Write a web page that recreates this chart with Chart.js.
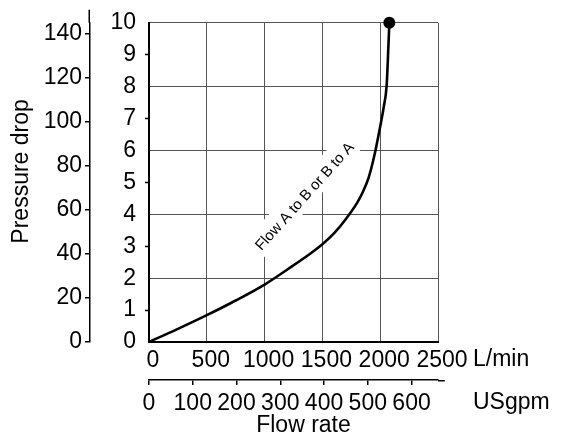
<!DOCTYPE html>
<html><head><meta charset="utf-8">
<script src="https://cdn.jsdelivr.net/npm/chart.js@4.4.1/dist/chart.umd.min.js"></script>
<style>html,body{margin:0;padding:0;background:#fff}canvas{display:block}</style>
</head><body>
<canvas id="c" width="568" height="441"></canvas>
<script>
// ---- data ----
const flowLmin    = [0, 250, 500, 750, 1000, 1200, 1400, 1500, 1600, 1700, 1800, 1850, 1900, 1950, 2000, 2030, 2056, 2068, 2079];
const pressureBar = [0, 0.41, 0.84, 1.3, 1.8, 2.28, 2.78, 3.06, 3.4, 3.84, 4.36, 4.7, 5.15, 5.85, 6.75, 7.35, 8.05, 9.0, 10];
const lminTicks  = [0, 500, 1000, 1500, 2000, 2500];
const usgpmTicks = [0, 100, 200, 300, 400, 500, 600];
const barTicks   = [0, 1, 2, 3, 4, 5, 6, 7, 8, 9, 10];
const psiTicks   = [0, 20, 40, 60, 80, 100, 120, 140];
const LMIN_PER_USGPM = 3.78541;
const PSI_PER_BAR = 14.5038;
const xTitle = 'Flow rate';
const yTitle = 'Pressure drop';
const lminUnit = 'L/min';
const usgpmUnit = 'USgpm';
const curveLabel = 'Flow A to B or B to A';
const curveLabelAt = {x: 1349, y: 4.55};

const FONT = "Arial, 'Liberation Sans', sans-serif";
Chart.defaults.font.family = FONT;
Chart.defaults.color = '#000';

const setTicks = arr => s => { s.ticks = arr.map(v => ({value: v})); };
const plain = v => String(v);
const GRID = '#555';
const TICK_FONT = {size: 23};

const extras = {
  id: 'extras',
  beforeDatasetsDraw(chart) {
    const ctx = chart.ctx, xs = chart.scales.x, ys = chart.scales.y;
    const cx = xs.getPixelForValue(curveLabelAt.x), cy = ys.getPixelForValue(curveLabelAt.y);
    ctx.save();
    ctx.translate(cx, cy);
    ctx.rotate(-48 * Math.PI / 180);
    ctx.font = '15px ' + FONT;
    const w = ctx.measureText(curveLabel).width;
    ctx.fillStyle = '#fff';
    ctx.fillRect(-w / 2 - 4, -15, w + 8, 25);
    ctx.fillStyle = '#000';
    ctx.textAlign = 'center';
    ctx.textBaseline = 'middle';
    ctx.fillText(curveLabel, 0, 0);
    ctx.restore();
  },
  afterDraw(chart) {
    const ctx = chart.ctx, s = chart.scales, ca = chart.chartArea;
    ctx.save();
    ctx.strokeStyle = '#000';
    ctx.lineWidth = 1.5;
    // extend outer psi axis line upward
    ctx.beginPath();
    ctx.moveTo(s.psi.right - 0.75, s.psi.top);
    ctx.lineTo(s.psi.right - 0.75, s.psi.getPixelForValue(151));
    ctx.stroke();
    // extend USgpm axis line rightward
    ctx.beginPath();
    ctx.moveTo(s.usg.right, s.usg.top + 0.75);
    ctx.lineTo(s.usg.getPixelForValue(676), s.usg.top + 0.75);
    ctx.stroke();
    ctx.fillStyle = '#000';
    ctx.font = '23px ' + FONT;
    ctx.textBaseline = 'middle';
    ctx.textAlign = 'left';
    ctx.fillText(lminUnit, ca.right + 35, s.x.top + 18);
    ctx.fillText(usgpmUnit, ca.right + 35, s.usg.top + 23);
    ctx.textAlign = 'center';
    ctx.fillText(xTitle, (ca.left + ca.right) / 2 + 10, s.usg.top + 46);
    ctx.translate(22, (ca.top + ca.bottom) / 2 - 11);
    ctx.rotate(-Math.PI / 2);
    ctx.fillText(yTitle, 0, 0);
    ctx.restore();
  }
};

new Chart(document.getElementById('c'), {
  type: 'line',
  data: {
    datasets: [{
      data: flowLmin.map((x, i) => ({x: x, y: pressureBar[i]})),
      xAxisID: 'x', yAxisID: 'y',
      borderColor: '#000', borderWidth: 2.6,
      cubicInterpolationMode: 'monotone',
      pointRadius: c => c.dataIndex === flowLmin.length - 1 ? 6 : 0,
      pointBackgroundColor: '#000', pointBorderWidth: 0,
      fill: false, clip: false
    }]
  },
  options: {
    responsive: false, animation: false, devicePixelRatio: 1,
    layout: {padding: {top: 19, right: 130, bottom: 0, left: 0}},
    plugins: {legend: {display: false}, tooltip: {enabled: false}},
    scales: {
      x: {
        type: 'linear', position: 'bottom', weight: 0, min: 0, max: 2500,
        afterBuildTicks: setTicks(lminTicks),
        afterFit: s => { s.height = 38; },
        grid: {color: c => (c.tick && c.tick.value === 0) ? 'rgba(0,0,0,0)' : GRID, lineWidth: 1, drawTicks: false},
        border: {color: '#000', width: 2},
        ticks: {font: TICK_FONT, padding: 5, labelOffset: 4, maxRotation: 0, autoSkip: false, callback: plain}
      },
      usg: {
        type: 'linear', position: 'bottom', weight: 1, min: 0, max: 2500 / LMIN_PER_USGPM,
        afterBuildTicks: setTicks(usgpmTicks),
        afterFit: s => { s.height = 61; },
        grid: {drawOnChartArea: false, drawTicks: true, tickLength: 5, color: '#000', lineWidth: 1.5},
        border: {color: '#000', width: 1.5},
        ticks: {font: TICK_FONT, padding: 5, maxRotation: 0, autoSkip: false, callback: plain}
      },
      y: {
        type: 'linear', position: 'left', weight: 0, min: 0, max: 10,
        afterBuildTicks: setTicks(barTicks),
        afterFit: s => { s.width = 59; },
        grid: {
          color: c => (c.tick && c.tick.value % 2 === 0 && c.tick.value > 0) ? GRID : 'rgba(0,0,0,0)',
          tickColor: c => (c.tick && c.tick.value % 2 === 1) ? '#000' : 'rgba(0,0,0,0)',
          tickLength: 4, lineWidth: 1, tickWidth: 1.5
        },
        border: {color: '#000', width: 2},
        ticks: {font: TICK_FONT, padding: 9, autoSkip: false, callback: plain}
      },
      psi: {
        type: 'linear', position: 'left', weight: 1, min: 0, max: 10 * PSI_PER_BAR,
        afterBuildTicks: setTicks(psiTicks),
        afterFit: s => { s.width = 90; },
        grid: {drawOnChartArea: false, tickLength: 5, color: '#000', lineWidth: 1.5},
        border: {color: '#000', width: 1.5},
        ticks: {font: TICK_FONT, padding: 3, autoSkip: false, callback: plain}
      }
    }
  },
  plugins: [extras]
});
</script>
</body></html>
